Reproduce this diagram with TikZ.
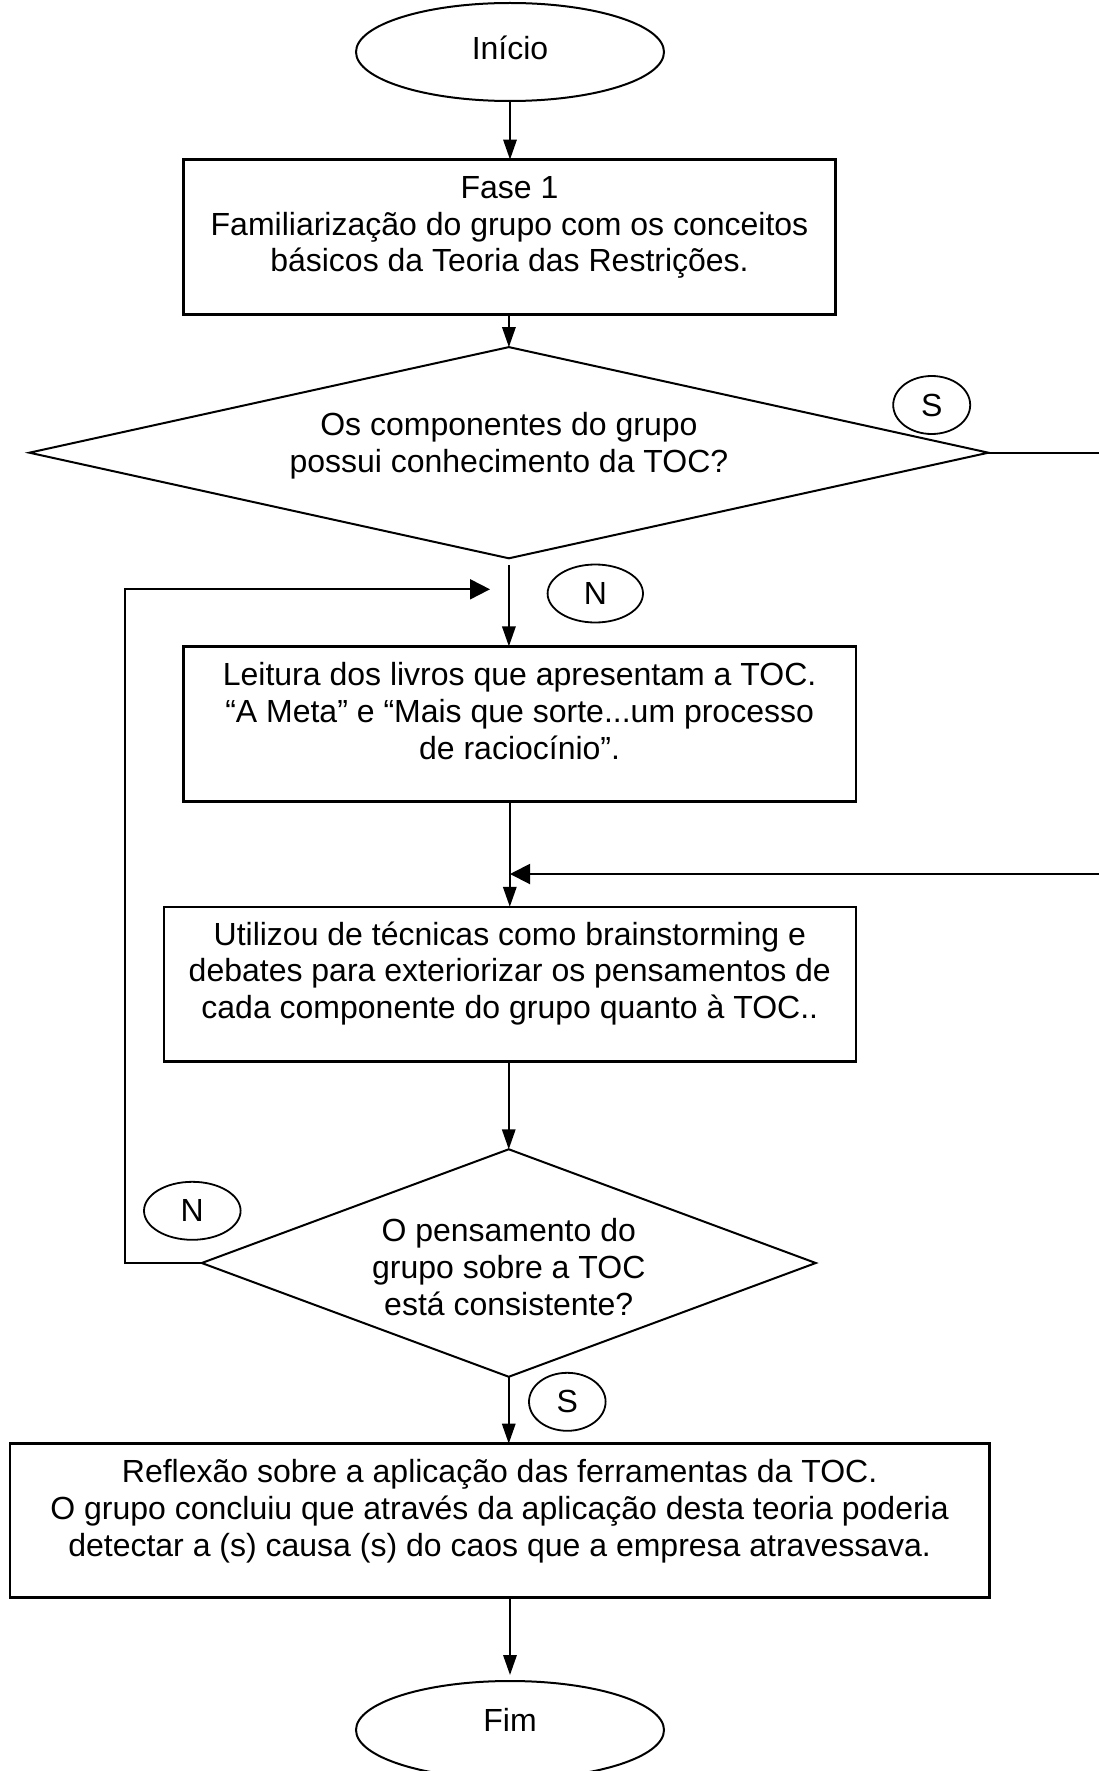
\documentclass[tikz,border=0pt]{standalone}
\usepackage{fontspec}
\setmainfont{Liberation Sans}
\usetikzlibrary{shapes.geometric, arrows.meta}

\begin{document}
\begin{tikzpicture}[
  x=0.5pt, y=-0.5pt,
  every node/.style={inner sep=0pt, outer sep=0pt},
  txt/.style={align=center, font=\fontsize{16pt}{18.3pt}\selectfont},
  procbox/.style={draw, rectangle, line width=1.2pt},
  term/.style={draw, ellipse, line width=1pt, minimum width=154pt, minimum height=49pt},
  decide/.style={draw, diamond, line width=1pt},
  tag/.style={draw, ellipse, line width=0.9pt, minimum height=29pt,
              font=\fontsize{16pt}{18pt}\selectfont},
  flow/.style={line width=1pt, -{Triangle[length=10pt,width=6.7pt]}},
  back/.style={line width=1pt, -{Triangle[length=10pt,width=10pt]}},
]
\useasboundingbox (0,0) rectangle (1098,1771);
\fill[white] (0,0) rectangle (1098,1771);

% start
\node[term] (inicio) at (510,52) {};
\node[txt, anchor=base] (inicioT) at (510,59.3) {Início};

% phase 1
\node[procbox, minimum width=326pt, minimum height=77.4pt] (b1) at (509.5,237) {};
\node[txt, anchor=north] (b1T) at (509.5,176.7)
  {Fase 1\\Familiarização do grupo com os conceitos\\básicos da Teoria das Restrições.};

% first decision
\node[decide, minimum width=479.5pt, minimum height=105.6pt] (d1) at (508.9,452.7) {};
\node[txt, anchor=north] (d1T) at (508.9,412.7)
  {Os componentes do grupo\\possui conhecimento da TOC?};
\node[tag, minimum width=38.5pt] (s1) at (931.7,405) {S};

% reading
\node[procbox, minimum width=336.1pt, minimum height=77.5pt] (b2) at (519.6,723.9) {};
\node[txt, anchor=north] (b2T) at (519.6,662.8)
  {Leitura dos livros que apresentam a TOC.\\“A Meta” e “Mais que sorte...um processo\\de raciocínio”.};
\node[tag, minimum width=47.7pt] (n1) at (595.3,593.5) {N};

% brainstorming
\node[procbox, minimum width=345.9pt, minimum height=77.3pt] (b3) at (509.8,984.1) {};
\node[txt, anchor=north] (b3T) at (509.8,921.7)
  {Utilizou de técnicas como brainstorming e\\debates para exteriorizar os pensamentos de\\cada componente do grupo quanto à TOC..};

% second decision
\node[decide, minimum width=307pt, minimum height=113.75pt] (d2) at (508.75,1263) {};
\node[txt, anchor=north] (d2T) at (508.75,1218.7)
  {O pensamento do\\grupo sobre a TOC\\está consistente?};
\node[tag, minimum width=48.3pt] (n2) at (192.3,1210.8) {N};
\node[tag, minimum width=38.3pt] (s2) at (567.3,1401.8) {S};

% reflection
\node[procbox, minimum width=489.9pt, minimum height=77pt] (b4) at (499.6,1520.6) {};
\node[txt, anchor=north] (b4T) at (499.6,1459.7)
  {Reflexão sobre a aplicação das ferramentas da TOC.\\O grupo concluiu que através da aplicação desta teoria poderia\\detectar a (s) causa (s) do caos que a empresa atravessava.};

% end
\node[term] (fim) at (510,1730) {};
\node[txt, anchor=base] (fimT) at (510,1731.7) {Fim};

% junction points of the return paths
\coordinate (joinN) at (490,589.3);
\coordinate (joinS) at (510,874);
\coordinate (loopL) at (125,0);
\coordinate (loopR) at (1130,0);

% main flow
\draw[flow] (inicio.south) -- (inicio.south |- b1.north);
\draw[flow] (d1.north |- b1.south) -- (d1.north);
\draw[flow, shorten <=3.5pt] (d1.south) -- (d1.south |- b2.north);
\draw[flow] (b3.north |- b2.south) -- (b3.north);
\draw[flow] (d2.north |- b3.south) -- (d2.north);
\draw[flow] (d2.south) -- (d2.south |- b4.north);
\draw[flow, shorten >=3pt] (fim.north |- b4.south) -- (fim.north);

% return paths
\draw[back] (d1.east) -- (d1.east -| loopR) -- (loopR |- joinS) -- (joinS);
\draw[back] (d2.west) -- (d2.west -| loopL) -- (loopL |- joinN) -- (joinN);
\end{tikzpicture}
\end{document}
